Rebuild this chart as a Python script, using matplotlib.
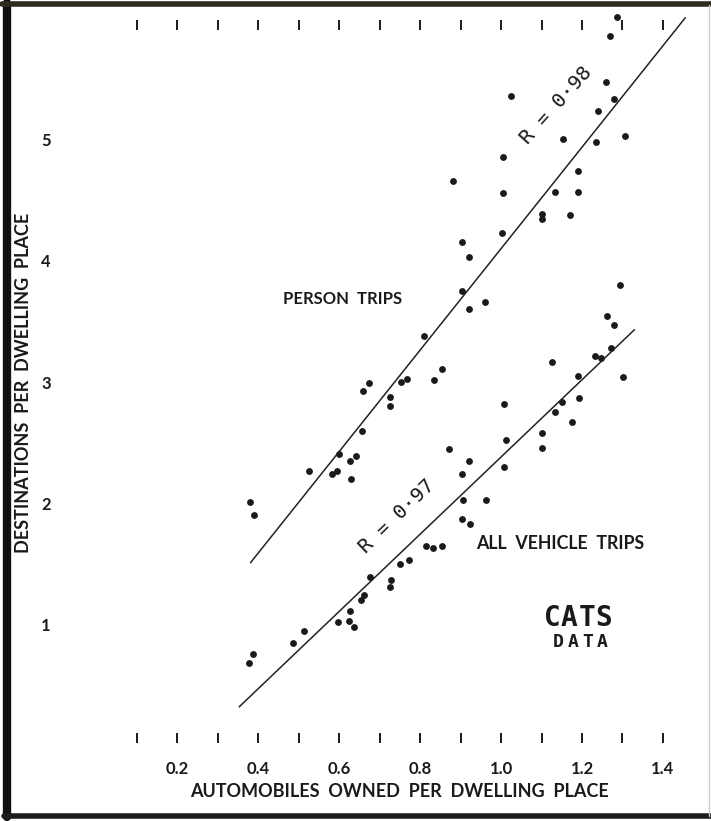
import numpy as np
import matplotlib
matplotlib.use("Agg")
import matplotlib.pyplot as plt
from matplotlib.lines import Line2D

# zone averages: automobiles owned vs destinations per dwelling place
person_x = [0.379, 0.389, 0.525, 0.581, 0.595, 0.600, 0.627, 0.641, 0.630, 0.656,
            0.659, 0.673, 0.726, 0.725, 0.753, 0.767, 0.810, 0.835, 0.854, 0.882,
            0.903, 0.921, 0.904, 0.920, 0.960, 1.002, 1.005, 1.005, 1.024, 1.101,
            1.101, 1.133, 1.170, 1.191, 1.191, 1.152, 1.234, 1.239, 1.259, 1.280,
            1.305, 1.270, 1.287]
person_y = [2.01, 1.90, 2.27, 2.24, 2.27, 2.41, 2.35, 2.39, 2.20, 2.60,
            2.93, 2.99, 2.88, 2.80, 3.00, 3.03, 3.38, 3.02, 3.11, 4.66,
            4.16, 4.03, 3.75, 3.60, 3.66, 4.23, 4.56, 4.86, 5.36, 4.39,
            4.35, 4.57, 4.38, 4.74, 4.57, 5.01, 4.98, 5.24, 5.48, 5.34,
            5.03, 5.86, 6.01]

vehicle_x = [0.377, 0.386, 0.485, 0.513, 0.596, 0.624, 0.637, 0.627, 0.654, 0.661,
             0.677, 0.727, 0.726, 0.750, 0.772, 0.814, 0.832, 0.855, 0.872, 0.904,
             0.923, 0.907, 0.963, 0.904, 0.921, 1.007, 1.012, 1.008, 1.100, 1.101,
             1.132, 1.174, 1.151, 1.193, 1.191, 1.125, 1.232, 1.246, 1.272, 1.301,
             1.261, 1.280, 1.295]
vehicle_y = [0.68, 0.76, 0.85, 0.95, 1.02, 1.03, 0.98, 1.11, 1.20, 1.24,
             1.39, 1.37, 1.31, 1.50, 1.53, 1.65, 1.63, 1.65, 2.45, 1.87,
             1.83, 2.03, 2.03, 2.24, 2.35, 2.30, 2.52, 2.82, 2.46, 2.58,
             2.75, 2.67, 2.84, 2.87, 3.05, 3.17, 3.22, 3.20, 3.28, 3.04,
             3.55, 3.47, 3.80]

# fitted lines (intercept, slope) and the x range they cover
person_fit = (-0.082, 4.184)
person_span = (0.381, 1.455)
vehicle_fit = (-0.802, 3.185)
vehicle_span = (0.353, 1.329)

x_ticks = [0.1, 0.2, 0.3, 0.4, 0.5, 0.6, 0.7, 0.8, 0.9, 1.0, 1.1, 1.2, 1.3, 1.4]
x_tick_labels = ["", "0.2", "", "0.4", "", "0.6", "", "0.8", "", "1.0", "", "1.2", "", "1.4"]
y_ticks = [1, 2, 3, 4, 5]
y_tick_labels = ["1", "2", "3", "4", "5"]

W, H = 711, 821
fig = plt.figure(figsize=(W / 100, H / 100), dpi=100)
fig.patch.set_facecolor("white")

def fx(px):
    return px / W

def fy(py):
    return 1 - py / H

ax = fig.add_axes([fx(96.5), fy(743), fx(703.4) - fx(96.5), fy(20) - fy(743)])
ax.set_xlim(0, 1.5)
ax.set_ylim(0.023, 5.988)
for s in ax.spines.values():
    s.set_visible(False)

font = "Lato"
wt = "bold"
ink = "#1a1a1a"

ax.plot(person_x, person_y, "o", ms=3.9, color=ink, clip_on=False)
ax.plot(vehicle_x, vehicle_y, "o", ms=3.9, color=ink, clip_on=False)

for (a, b), (x0, x1) in [(person_fit, person_span), (vehicle_fit, vehicle_span)]:
    xs = np.array([x0, x1])
    ax.plot(xs, a + b * xs, color="#222222", lw=1.1, clip_on=False)

ax.set_xticks(x_ticks)
ax.set_xticklabels(x_tick_labels, fontfamily=font, fontweight=wt, fontsize=12)
ax.tick_params(axis="x", direction="in", length=7.5, width=1.4, color=ink,
               top=True, bottom=True, labelbottom=True, pad=13, labelcolor=ink)
ax.set_yticks(y_ticks)
ax.set_yticklabels(y_tick_labels, fontfamily=font, fontweight=wt, fontsize=12)
ax.tick_params(axis="y", length=0, pad=33, labelcolor=ink)

ax.set_xlabel("AUTOMOBILES  OWNED  PER  DWELLING  PLACE", fontfamily=font,
              fontweight=wt, fontsize=13, color=ink, labelpad=4)
fig.text(fx(24), fy(383), "DESTINATIONS  PER  DWELLING  PLACE", rotation=90,
         ha="center", va="center", fontfamily=font, fontweight=wt,
         fontsize=13, color=ink)

ax.text(0.609, 3.686, "PERSON  TRIPS", ha="center", va="center",
        fontfamily=font, fontweight=wt, fontsize=12, color=ink)
ax.text(1.146, 1.673, "ALL  VEHICLE  TRIPS", ha="center", va="center",
        fontfamily=font, fontweight=wt, fontsize=12.8, color=ink)

ax.text(1.136, 5.287, "R = 0·98", rotation=48, ha="center", va="center",
        rotation_mode="anchor", fontfamily="DejaVu Sans Mono", fontsize=14.5, color=ink)
ax.text(0.742, 1.890, "R = 0·97", rotation=44, ha="center", va="center",
        rotation_mode="anchor", fontfamily="DejaVu Sans Mono", fontsize=14.5, color=ink)

def spaced(x, y, word, step, size):
    # letters laid out one by one for a wide stencil look
    n = len(word)
    for i, ch in enumerate(word):
        ax.text(x + (i - (n - 1) / 2) * step, y, ch, ha="center", va="center",
                fontfamily="DejaVu Sans Mono", fontweight="bold", fontsize=size,
                color=ink)

spaced(1.190, 1.054, "CATS", 0.043, 20)
spaced(1.195, 0.856, "DATA", 0.036, 13)

# scanned-page frame
frame = [((7, 7), (3, 817), 6.0, "#111111"),
         ((2, 711), (4, 4), 4.0, "#2e2a20"),
         ((4, 711), (816, 816), 4.0, "#1c1c1c"),
         ((709, 709), (5, 816), 1.0, "#cfcfcf")]
for xs, ys, lw, c in frame:
    fig.add_artist(Line2D([fx(v) for v in xs], [fy(v) for v in ys], lw=lw,
                          color=c, transform=fig.transFigure, solid_capstyle="round"))

fig.savefig("out.png", dpi=100, facecolor="white")
